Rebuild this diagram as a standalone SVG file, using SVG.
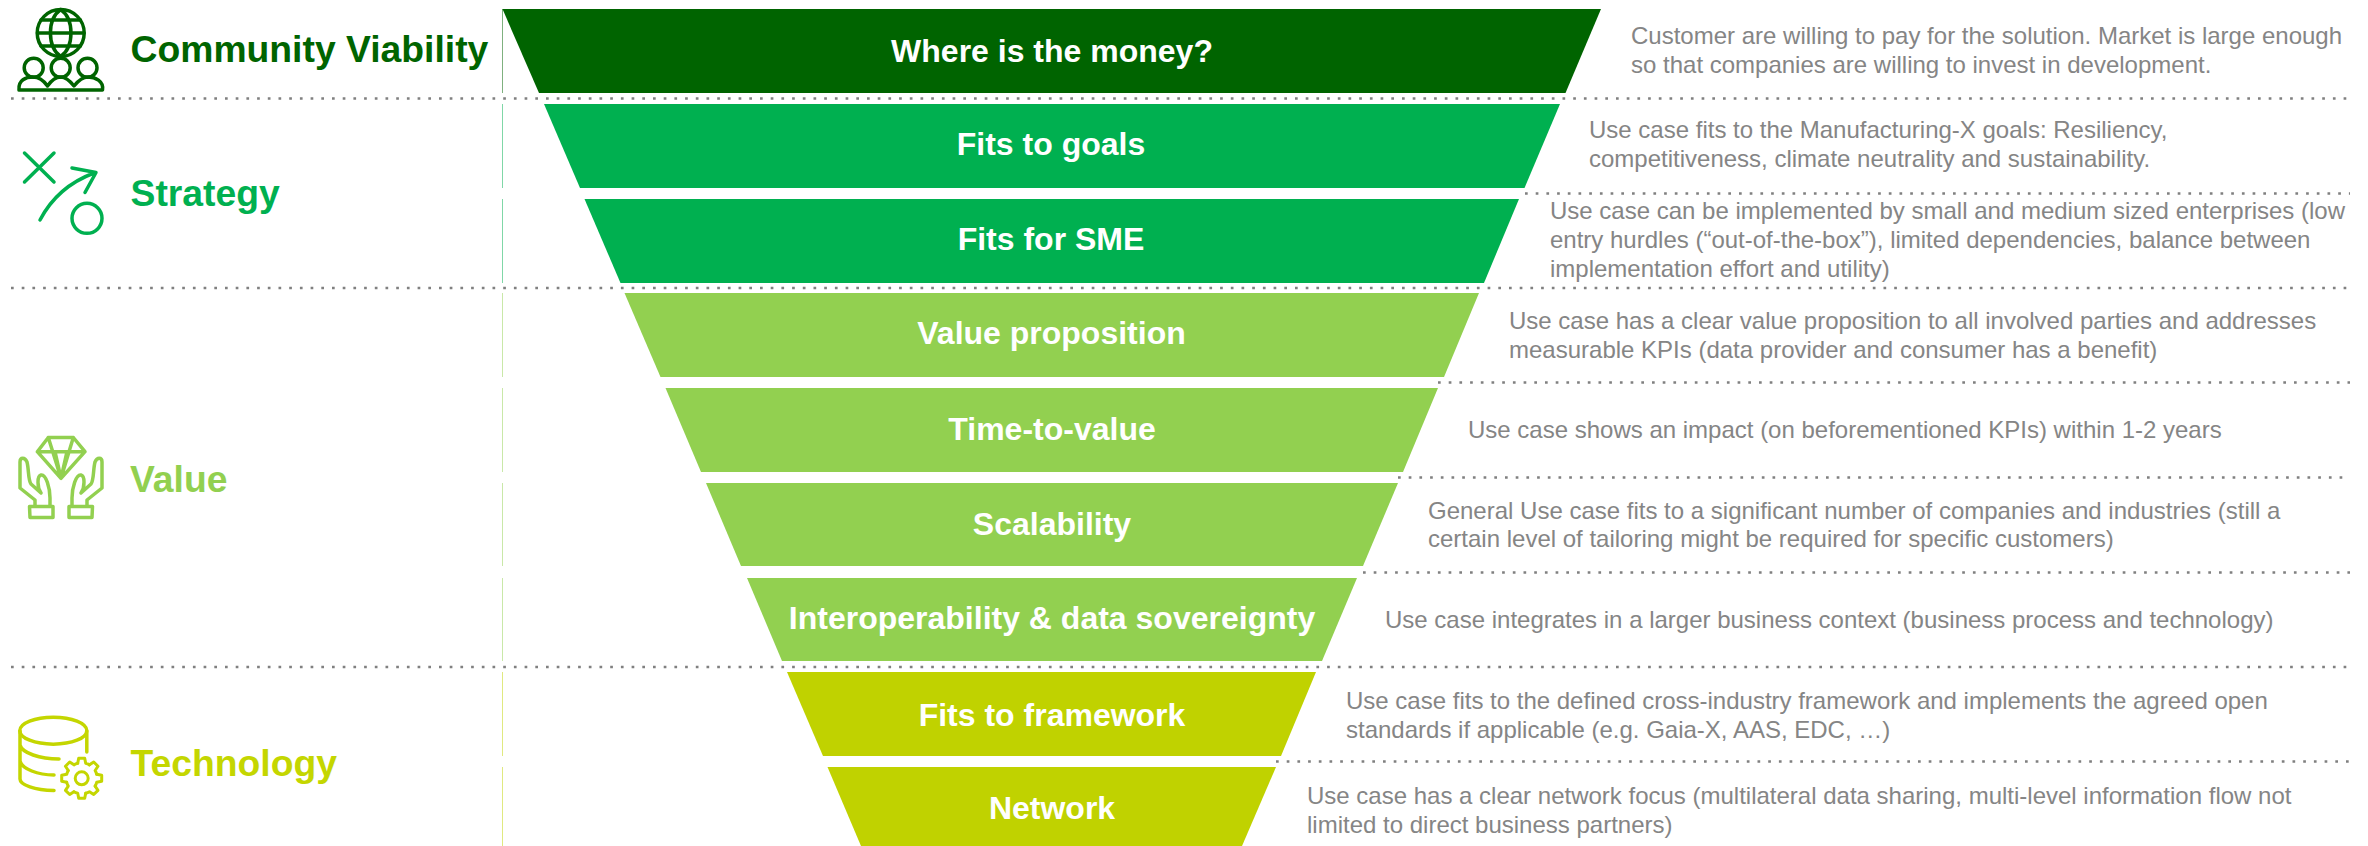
<svg xmlns="http://www.w3.org/2000/svg" width="2368" height="846" viewBox="0 0 2368 846">
<style>
text{font-family:"Liberation Sans",Arial,sans-serif}
.t{font-size:32px;font-weight:bold;fill:#fff;text-anchor:middle}
.c{font-size:37.3px;font-weight:bold}
.d{font-size:24px;fill:#858585}
.dot{stroke:#808080;stroke-width:2.7;stroke-dasharray:2.7 8;fill:none}
.dk{fill:#006400}.gr{fill:#00B050}.lt{fill:#92D050}.lm{fill:#C0D200}
.i{fill:none;stroke-width:3.5;stroke-linecap:round;stroke-linejoin:round}
.vl{stroke-width:1;fill:none}
</style>
<defs>
<path id="tooth" d="M-4,-15L-3,-20L3,-20L4,-15A15.500,15.500 0 0 1 7.780,-13.440"/>
</defs>
<g id="connectors">
<path class="vl" stroke="#7FB17F" d="M502.500,9V93"/>
<path class="vl" stroke="#80D7A7" d="M502.500,104V188M502.500,199V283"/>
<path class="vl" stroke="#C9E8A8" d="M502.500,293V377M502.500,388V472M502.500,483V566M502.500,578V661"/>
<path class="vl" stroke="#E0E980" d="M502.500,672V756M502.500,767V846"/>
<path class="dot" d="M11,98.500H2350M11,288H2350M11,667H2350"/>
<path class="dot" d="M1525,193.500H2350M1438,382.500H2350M1398,477.500H2350M1363,572.500H2350M1276,761.500H2350"/>
</g>
<g id="cat-community">
<g class="i" stroke="#006400">
<circle cx="60.700" cy="33" r="23.500"/>
<path d="M60.700,9.500C47,19,47,47,60.700,56.500C74.400,47,74.400,19,60.700,9.500ZM41,20H80.400M37.500,33H83.900M41,46H80.400"/>
<circle cx="33.700" cy="67.700" r="9.500"/><circle cx="60.700" cy="67.700" r="9.500"/><circle cx="87.500" cy="67.700" r="9.500"/>
<path d="M19,90C18,80,26,77,33,77C40,77,44,81,47.500,86C51,81,55,77,60.700,77C66,77,70,81,74,86C78,81,82,77,88,77C95,77,104,81,102.500,90Z"/>
</g>
<text class="c" x="130.500" y="62" fill="#006400">Community Viability</text>
</g>
<g id="cat-strategy">
<g class="i" stroke="#00B050">
<path d="M24.500,153L54,182M54,153L24.500,182"/>
<path d="M40,220C52,197,70,182,94,173M72,168L96,172.500L85,192.500"/>
<circle cx="87" cy="218.300" r="15"/>
</g>
<text class="c" x="130.500" y="206" fill="#00B050">Strategy</text>
</g>
<g id="cat-value">
<g class="i" stroke="#92D050">
<path d="M48.300,437.500H73.300L85,451.700L61,478.300L37.300,451.700ZM37.300,451.700H85M48.300,437.500L61,478.300L73.300,437.500M55,451.700L61,478.300L67,451.700"/>
<path d="M29.500,506.500H53V517.500H30ZM35,506.500V500L20,488V462C20,457,25,457,27,462C29,470,28,480,31,484L41,493C37,487,37,476,41,475C46,474,50,488,50,498V506.500"/>
<path d="M92.500,506.500H69V517.500H92ZM87,506.500V500L102,488V462C102,457,97,457,95,462C93,470,94,480,91,484L81,493C85,487,85,476,81,475C76,474,72,488,72,498V506.500"/>
</g>
<text class="c" x="130" y="492" fill="#92D050">Value</text>
</g>
<g id="cat-technology">
<g class="i" stroke="#C4D600">
<ellipse cx="53.300" cy="730.700" rx="33.500" ry="13.500"/>
<path d="M20,731V779C20,785,35,790,54,790.500M86.800,731V752M20,745C22,753,40,759,59,759M20,761C22,769,38,775,54,775"/>
<g transform="translate(81.700,778.300)" stroke-width="3">
<use href="#tooth"/><use href="#tooth" transform="rotate(45)"/><use href="#tooth" transform="rotate(90)"/><use href="#tooth" transform="rotate(135)"/><use href="#tooth" transform="rotate(180)"/><use href="#tooth" transform="rotate(225)"/><use href="#tooth" transform="rotate(270)"/><use href="#tooth" transform="rotate(315)"/>
<circle r="6.500"/>
</g>
</g>
<text class="c" x="130.500" y="776" fill="#C4D600">Technology</text>
</g>
<g id="row-money"><polygon class="dk" points="502.500,9 1601,9 1565.500,93 539,93"/><text class="t" x="1052" y="62">Where is the money?</text>
<text class="d" x="1631" y="43.500">Customer are willing to pay for the solution. Market is large enough</text><text class="d" x="1631" y="72.500">so that companies are willing to invest in development.</text></g>
<g id="row-goals"><polygon class="gr" points="544,104 1560,104 1524.500,188 580,188"/><text class="t" x="1051" y="155">Fits to goals</text>
<text class="d" x="1589" y="138">Use case fits to the Manufacturing-X goals: Resiliency,</text><text class="d" x="1589" y="167">competitiveness, climate neutrality and sustainability.</text></g>
<g id="row-sme"><polygon class="gr" points="584.500,199 1519,199 1484,283 620.500,283"/><text class="t" x="1051" y="250">Fits for SME</text>
<text class="d" x="1550" y="219">Use case can be implemented by small and medium sized enterprises (low</text><text class="d" x="1550" y="248">entry hurdles (“out-of-the-box”), limited dependencies, balance between</text><text class="d" x="1550" y="277">implementation effort and utility)</text></g>
<g id="row-value"><polygon class="lt" points="624.500,293 1479,293 1444,377 660.500,377"/><text class="t" x="1051.500" y="344">Value proposition</text>
<text class="d" x="1509" y="329">Use case has a clear value proposition to all involved parties and addresses</text><text class="d" x="1509" y="358">measurable KPIs (data provider and consumer has a benefit)</text></g>
<g id="row-time"><polygon class="lt" points="665.500,388 1438,388 1403,472 701,472"/><text class="t" x="1052" y="439.500">Time-to-value</text>
<text class="d" x="1468" y="437.500">Use case shows an impact (on beforementioned KPIs) within 1-2 years</text></g>
<g id="row-scale"><polygon class="lt" points="706,483 1398,483 1363,566 741,566"/><text class="t" x="1052" y="534.500">Scalability</text>
<text class="d" x="1428" y="518.500">General Use case fits to a significant number of companies and industries (still a</text><text class="d" x="1428" y="546.500">certain level of tailoring might be required for specific customers)</text></g>
<g id="row-interop"><polygon class="lt" points="747,578 1357,578 1322,661 782,661"/><text class="t" x="1052" y="628.500">Interoperability &amp; data sovereignty</text>
<text class="d" x="1385" y="627.500">Use case integrates in a larger business context (business process and technology)</text></g>
<g id="row-framework"><polygon class="lm" points="787,672 1316,672 1281,756 823,756"/><text class="t" x="1052" y="725.500">Fits to framework</text>
<text class="d" x="1346" y="708.500">Use case fits to the defined cross-industry framework and implements the agreed open</text><text class="d" x="1346" y="737.500">standards if applicable (e.g. Gaia-X, AAS, EDC, …)</text></g>
<g id="row-network"><polygon class="lm" points="827.500,767 1276,767 1242,846 861,846"/><text class="t" x="1052" y="818.500">Network</text>
<text class="d" x="1307" y="803.500">Use case has a clear network focus (multilateral data sharing, multi-level information flow not</text><text class="d" x="1307" y="832.500">limited to direct business partners)</text></g>
</svg>
